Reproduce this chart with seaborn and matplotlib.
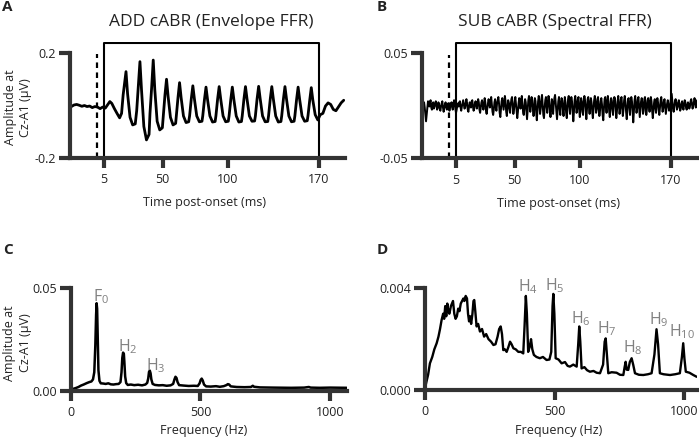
import numpy as np
import pandas as pd
import matplotlib
matplotlib.use("Agg")
import matplotlib.pyplot as plt
import seaborn as sns

sns.set_style("ticks")
plt.rcParams['font.family'] = ['Open Sans', 'DejaVu Sans']
plt.rcParams['mathtext.default'] = 'regular'

# --- A: ADD cABR waveform (ms, uV)
add_time = [-20, -18, -16, -14, -12, -10, -8, -6, -4, -2, 0, 2, 4, 6, 8, 9.5, 11, 13, 15, 17, 18.5,
            19.7, 21.9, 23.1, 25, 27, 29,
            30.1, 31.3, 32.6, 33.8, 35.6, 37.6, 39.6,
            40.3, 41.6, 42.8, 44.0, 45.8, 47.8, 49.8,
            50.5, 51.8, 53.0, 54.2, 56.0, 58.0, 60.0,
            60.5, 61.8, 63.0, 64.2, 66.0, 68.0, 70.0,
            70.7, 72.0, 73.2, 74.4, 76.2, 78.2, 80.2,
            80.8, 82.1, 83.3, 84.5, 86.3, 88.3, 90.3,
            90.9, 92.2, 93.4, 94.6, 96.4, 98.4, 100.4,
            101.0, 102.3, 103.5, 104.7, 106.5, 108.5, 110.5,
            111.1, 112.4, 113.6, 114.8, 116.6, 118.6, 120.6,
            121.2, 122.5, 123.7, 124.9, 126.7, 128.7, 130.7,
            131.3, 132.6, 133.8, 135.0, 136.8, 138.8, 140.8,
            141.4, 142.7, 143.9, 145.1, 146.9, 148.9, 150.9,
            151.5, 152.8, 154.0, 155.2, 157.0, 159.0, 161.0,
            161.6, 162.9, 164.1, 165.3, 167.1, 169.1, 171.0,
            173, 175, 177, 179, 181, 183, 185, 187, 189]
add_amp = [-0.004, 0.002, 0.004, 0.001, -0.003, 0.0, -0.004, -0.002, -0.008, -0.004, -0.006, -0.012, -0.006, -0.010, 0.004, 0.015, 0.008, -0.012, -0.030, -0.047, -0.030,
           0.040, 0.129, 0.045, -0.045, -0.074, -0.070,
           -0.020, 0.070, 0.167, 0.060, -0.080, -0.131, -0.110,
           -0.030, 0.070, 0.173, 0.060, -0.060, -0.093, -0.085,
           -0.040, 0.040, 0.100, 0.035, -0.045, -0.074, -0.068,
           -0.040, 0.030, 0.087, 0.030, -0.040, -0.065, -0.062,
           -0.040, 0.025, 0.075, 0.025, -0.040, -0.062, -0.060,
           -0.040, 0.022, 0.070, 0.022, -0.040, -0.063, -0.061,
           -0.040, 0.024, 0.072, 0.024, -0.040, -0.062, -0.060,
           -0.040, 0.022, 0.070, 0.022, -0.040, -0.063, -0.061,
           -0.040, 0.024, 0.072, 0.024, -0.040, -0.060, -0.059,
           -0.040, 0.025, 0.073, 0.025, -0.040, -0.062, -0.061,
           -0.040, 0.024, 0.072, 0.024, -0.040, -0.063, -0.061,
           -0.040, 0.024, 0.072, 0.024, -0.040, -0.062, -0.060,
           -0.040, 0.022, 0.070, 0.022, -0.040, -0.060, -0.058,
           -0.038, 0.020, 0.068, 0.020, -0.035, -0.055, -0.035,
           -0.030, -0.002, 0.010, 0.004, -0.015, -0.020, -0.005, 0.010, 0.020]

# --- B: SUB cABR waveform, 0.5 ms samples from -20 ms (values in 1e-3 uV)
sub_amp_milli = [
    1, 3, -2, -8, -15, -9, -2, 4, 2, -1, 3, 5, -2, -4, 1, 3, -3, -1, 2, 4,
    0, -4, -2, 3, 1, -3, -5, -1, 2, 4, -2, -6, -3, 1, 3, -1, -4, 0, 2, -3,
    -5, -2, 1, 3, -1, -4, 2, 5, 1, -3, -7, -4, 0, 2, -1, 3, 4, -2, -5, -1,
    2, 5, 1, -3, -2, 3, 6, 2, -4, -6, -1, 3, 1, -2, 4, 5, -1, -5, -3, 2,
    4, 1, -3, 2, 6, 3, -4, -7, -2, 3, 5, 0, -4, 1, 7, 3, -5, -8, -3, 2,
    6, 2, -2, 4, 8, 1, -6, -9, -4, 3, 6, -1, -5, 2, 5, 8, 2, -7, -11, -3,
    4, 7, 1, -4, 3, 9, 4, -6, -10, -2, 5, 3, -3, -7, 1, 6, 8, 0, -8, -4,
    3, 8, 2, -5, -12, -6, 2, 7, 4, -3, 5, 9, 1, -7, -9, -2, 6, 3, -5, -13,
    -4, 5, 9, 3, -6, 2, 8, 5, -4, -10, -3, 7, 4, -6, -14, -5, 4, 9, 2, -8,
    -3, 6, 10, 1, -9, -12, -2, 5, 8, -1, -7, 3, 9, 4, -5, -11, -4, 6, 2, -8,
    1, 7, 10, 2, -6, -13, -5, 4, 8, -2, -9, 2, 7, 5, -4, -10, -1, 8, 3, -7,
    -12, -3, 6, 9, 0, -8, 3, 8, 4, -5, -15, -6, 5, 9, 2, -7, -3, 6, 8, -4,
    -11, -2, 7, 4, -6, -9, 3, 9, 5, -3, -13, -4, 6, 8, -1, -8, 2, 7, 3, -6,
    -12, -3, 5, 9, 2, -7, -4, 6, 8, -2, -10, -5, 4, 7, 1, -9, -14, -3, 6, 8,
    0, -7, 3, 9, 4, -5, -11, -2, 7, 5, -4, -9, 2, 8, 6, -3, -12, -5, 4, 9,
    1, -8, -3, 6, 8, -2, -10, -4, 5, 9, 3, -6, -13, -4, 6, 7, -1, -9, 2, 8,
    4, -5, -16, -6, 5, 9, 1, -7, -3, 6, 8, -2, -11, -4, 4, 7, 2, -8, -5, 6,
    8, -1, -9, -3, 5, 7, 0, -6, 3, 8, 4, -5, -12, -4, 3, 6, -2, -7, 2, 7,
    3, -4, -9, -2, 5, 8, 1, -6, -3, 4, 6, -1, -8, -3, 2, 5, 0, -5, -2, 3,
    7, 11, 4, -3, -6, -1, 4, 6, 2, -4, -2, 3, 5, 0, -5, -3, 2, 4, -1, -4,
    1, 5, 3, -2, -4, 0, 3, 1, -3, -1, 4, 6, 2, -3, -1, 3, 7, 4, -2, 2,
    5]
sub_start_ms = -20
sub_step_ms = 0.5

# --- C: envelope FFR spectrum (Hz, uV)
env_freq = [0, 10, 20, 30, 40, 50, 62, 72, 80, 86, 91, 95, 98, 100, 102, 104, 107, 111, 116, 125,
            135, 145, 155, 165, 175, 185, 192, 196, 199, 202, 205, 207, 210, 214, 220, 232, 245, 260,
            275, 288, 295, 299, 302, 305, 308, 311, 316, 325, 340, 355, 370, 385, 395, 400, 404, 408,
            412, 418, 435, 455, 475, 490, 497, 501, 505, 509, 514, 522, 540, 560, 575, 590, 600, 606,
            611, 617, 640, 670, 695, 702, 707, 730, 780, 850, 900, 918, 925, 960, 1000, 1064]
env_amp = [0.0005, 0.0009, 0.0013, 0.0018, 0.0025, 0.0030, 0.0037, 0.0042, 0.0045, 0.0055, 0.009, 0.022,
           0.037, 0.0427, 0.040, 0.028, 0.010, 0.0048, 0.0036, 0.0035, 0.0033, 0.0036, 0.0031, 0.0030,
           0.0032, 0.0033, 0.0042, 0.009, 0.016, 0.0186, 0.018, 0.014, 0.007, 0.0037, 0.0028, 0.0030,
           0.0027, 0.0029, 0.0026, 0.0030, 0.0038, 0.006, 0.0092, 0.0098, 0.0085, 0.0055, 0.0033, 0.0028,
           0.0026, 0.0027, 0.0024, 0.0026, 0.0033, 0.0055, 0.0068, 0.0062, 0.0042, 0.0027, 0.0025, 0.0023,
           0.0024, 0.0023, 0.0036, 0.0052, 0.0059, 0.0050, 0.0030, 0.0021, 0.0020, 0.0022, 0.0019, 0.0022,
           0.0027, 0.0032, 0.0030, 0.0021, 0.0018, 0.0017, 0.0018, 0.0024, 0.0019, 0.0016, 0.0015, 0.0014,
           0.0015, 0.0018, 0.0015, 0.0014, 0.0015, 0.0014]

# --- D: spectral FFR spectrum (Hz, uV)
spec_freq = [0, 5, 12, 19, 28, 36, 45, 52, 58, 64, 70, 74, 78, 82, 86, 90, 94, 100, 104, 108, 113, 118,
             123, 128, 133, 138, 143, 148, 152, 157, 162, 166, 170, 174, 178, 183, 187, 190, 194, 199, 205,
             212, 220, 228, 236, 245, 255, 264, 272, 280, 286, 292, 297, 302, 308, 315, 322, 328, 334, 341,
             350, 360, 370, 379, 384, 389, 393, 398, 404, 409, 414, 420, 430, 443, 455, 469, 480, 487, 492,
             495, 499, 504, 515, 527, 540, 550, 559, 572, 585, 591, 595, 599, 604, 615, 625, 636, 650, 662,
             675, 687, 693, 697, 701, 707, 720, 739, 752, 765, 770, 774, 778, 784, 790, 797, 803, 810, 825,
             842, 860, 874, 885, 893, 899, 906, 920, 945, 965, 983, 991, 996, 1001, 1006, 1020, 1035, 1048]
spec_amp = [0.00005, 0.0003, 0.0006, 0.00105, 0.0013, 0.0016, 0.00184, 0.0021, 0.0024, 0.00275, 0.0030,
            0.0028, 0.0033, 0.0029, 0.0034, 0.0031, 0.0030, 0.0033, 0.0034, 0.0035, 0.0030, 0.0028, 0.0029,
            0.0032, 0.0031, 0.0034, 0.0035, 0.0036, 0.0035, 0.0037, 0.0036, 0.0030, 0.0027, 0.0029, 0.0026,
            0.0030, 0.0035, 0.00354, 0.0031, 0.0025, 0.0026, 0.0023, 0.0024, 0.0021, 0.0022, 0.0020, 0.0019,
            0.00177, 0.0018, 0.0021, 0.0024, 0.0025, 0.0022, 0.00157, 0.0016, 0.0015, 0.0017, 0.0019, 0.0018,
            0.00164, 0.0016, 0.0015, 0.0015, 0.00144, 0.0025, 0.0037, 0.0030, 0.0015, 0.0017, 0.0020, 0.0016,
            0.00138, 0.0013, 0.00125, 0.0013, 0.00118, 0.0012, 0.0015, 0.0033, 0.00378, 0.0030, 0.00125,
            0.0012, 0.00105, 0.0011, 0.00095, 0.00092, 0.0010, 0.00092, 0.0018, 0.0025, 0.0019, 0.00085,
            0.0009, 0.00078, 0.00072, 0.00075, 0.00068, 0.00066, 0.0010, 0.0019, 0.00203, 0.0015, 0.00066,
            0.0007, 0.00068, 0.0006, 0.00059, 0.0009, 0.00111, 0.0008, 0.00079, 0.0011, 0.00125, 0.0010,
            0.00066, 0.0006, 0.00059, 0.00062, 0.00066, 0.0014, 0.00239, 0.0018, 0.00066, 0.00062, 0.00059,
            0.00062, 0.00066, 0.0013, 0.00184, 0.0012, 0.00072, 0.00068, 0.00059, 0.00052]

# harmonic labels: (text, left edge Hz, baseline uV)
env_labels = [("F$_0$", 85, 0.0434), ("H$_2$", 184, 0.019), ("H$_3$", 289, 0.0101)]
spec_labels = [("H$_4$", 360, 0.00387), ("H$_5$", 463, 0.00393), ("H$_6$", 562, 0.00262),
               ("H$_7$", 662, 0.00224), ("H$_8$", 762, 0.00147), ("H$_9$", 865, 0.00257),
               ("H$_{10}$", 942, 0.0021)]

time_ticks = [5, 50, 100, 170]
freq_ticks = [0, 500, 1000]
window = (5, 170)
onset = 0

add_df = pd.DataFrame({"time": add_time, "amp": add_amp})
sub_amp = np.array(sub_amp_milli) / 1000
sub_df = pd.DataFrame({"time": sub_start_ms + sub_step_ms * np.arange(len(sub_amp)), "amp": sub_amp})
env_df = pd.DataFrame({"freq": env_freq, "amp": env_amp})
spec_df = pd.DataFrame({"freq": spec_freq, "amp": spec_amp})

spine_col = "#333333"
text_col = "#222222"
label_gray = "#808080"

fig = plt.figure(figsize=(6.99, 4.43), dpi=100)
axA = fig.add_axes([0.1003, 0.6433, 0.3933, 0.2608])
axB = fig.add_axes([0.6039, 0.6427, 0.3934, 0.2623])
axC = fig.add_axes([0.1011, 0.1181, 0.3949, 0.2312])
axD = fig.add_axes([0.6080, 0.1196, 0.3887, 0.2296])


def style(ax, xticks, yticks, ylabels):
    sns.despine(ax=ax)
    for s in ["left", "bottom"]:
        ax.spines[s].set_linewidth(3)
        ax.spines[s].set_color(spine_col)
        ax.spines[s].set_capstyle("projecting")
    ax.spines["left"].set_bounds(yticks[0], yticks[-1])
    ax.set_xticks(xticks)
    ax.set_xticklabels([str(t) for t in xticks])
    ax.set_yticks(yticks)
    ax.set_yticklabels(ylabels)
    ax.tick_params(axis="x", length=7, width=3, color=spine_col, labelsize=9, labelcolor=text_col, pad=4)
    ax.tick_params(axis="y", length=8, width=3, color=spine_col, labelsize=9, labelcolor=text_col, pad=2)
    ax.set_ylabel("")
    ax.set_xlabel("")


# A
sns.lineplot(data=add_df, x="time", y="amp", ax=axA, color="black", linewidth=2.0)
axA.set_xlim(-21, 190)
axA.set_ylim(-0.2, 0.24)
style(axA, time_ticks, [-0.2, 0.2], ["-0.2", "0.2"])
axA.plot([window[0], window[0], window[1], window[1]], [-0.2, 0.237, 0.237, -0.2], color="black", lw=1.5)
axA.plot([onset, onset], [-0.2, 0.195], color="black", lw=1.6, ls=(0, (2.5, 2)))

# B
sns.lineplot(data=sub_df, x="time", y="amp", ax=axB, color="black", linewidth=1.4)
axB.set_xlim(-21, 190)
axB.set_ylim(-0.05, 0.06)
style(axB, time_ticks, [-0.05, 0.05], ["-0.05", "0.05"])
axB.plot([window[0], window[0], window[1], window[1]], [-0.05, 0.0589, 0.0589, -0.05], color="black", lw=1.5)
axB.plot([onset, onset], [-0.05, 0.048], color="black", lw=1.6, ls=(0, (2.5, 2)))

# C
sns.lineplot(data=env_df, x="freq", y="amp", ax=axC, color="black", linewidth=1.8)
axC.set_xlim(0, 1064)
axC.set_ylim(0, 0.05)
style(axC, freq_ticks, [0, 0.05], ["0.00", "0.05"])
for txt, fx, fy in env_labels:
    axC.text(fx, fy, txt, color=label_gray, fontsize=11.5, ha="left", va="baseline")

# D
sns.lineplot(data=spec_df, x="freq", y="amp", ax=axD, color="black", linewidth=1.7)
axD.set_xlim(0, 1048)
axD.set_ylim(0, 0.004)
style(axD, freq_ticks, [0, 0.004], ["0.000", "0.004"])
for txt, fx, fy in spec_labels:
    axD.text(fx, fy, txt, color=label_gray, fontsize=11.5, ha="left", va="baseline")

# axis labels
for ax, lab, xc, yc in [(axA, "Time post-onset (ms)", 0.49, -0.385),
                        (axB, "Time post-onset (ms)", 0.497, -0.39),
                        (axC, "Frequency (Hz)", 0.481, -0.385),
                        (axD, "Frequency (Hz)", 0.491, -0.40)]:
    ax.set_xlabel(lab, fontsize=9, color=text_col)
    ax.xaxis.set_label_coords(xc, yc)
    ax.xaxis.label.set_va("center")

for ax, yc, xc in [(axA, 0.44, -0.19), (axC, 0.466, -0.193)]:
    ax.set_ylabel("Amplitude at\nCz-A1 (\u03bcV)", fontsize=9, color=text_col, linespacing=1.25)
    ax.yaxis.set_label_coords(xc, yc)
    ax.yaxis.label.set_va("center")

# titles and panel letters
fig.text(211 / 699, 1 - 22 / 443, "ADD cABR (Envelope FFR)", ha="center", va="center", fontsize=12.5, color=text_col)
fig.text(555 / 699, 1 - 22 / 443, "SUB cABR (Spectral FFR)", ha="center", va="center", fontsize=12.5, color=text_col)
for letter, px, py in [("A", 2, 7), ("B", 377, 7), ("C", 3, 250), ("D", 377, 250)]:
    fig.text(px / 699, 1 - py / 443, letter, ha="left", va="center", fontsize=11, weight="bold", color=text_col)

fig.savefig("out.png", dpi=100)
